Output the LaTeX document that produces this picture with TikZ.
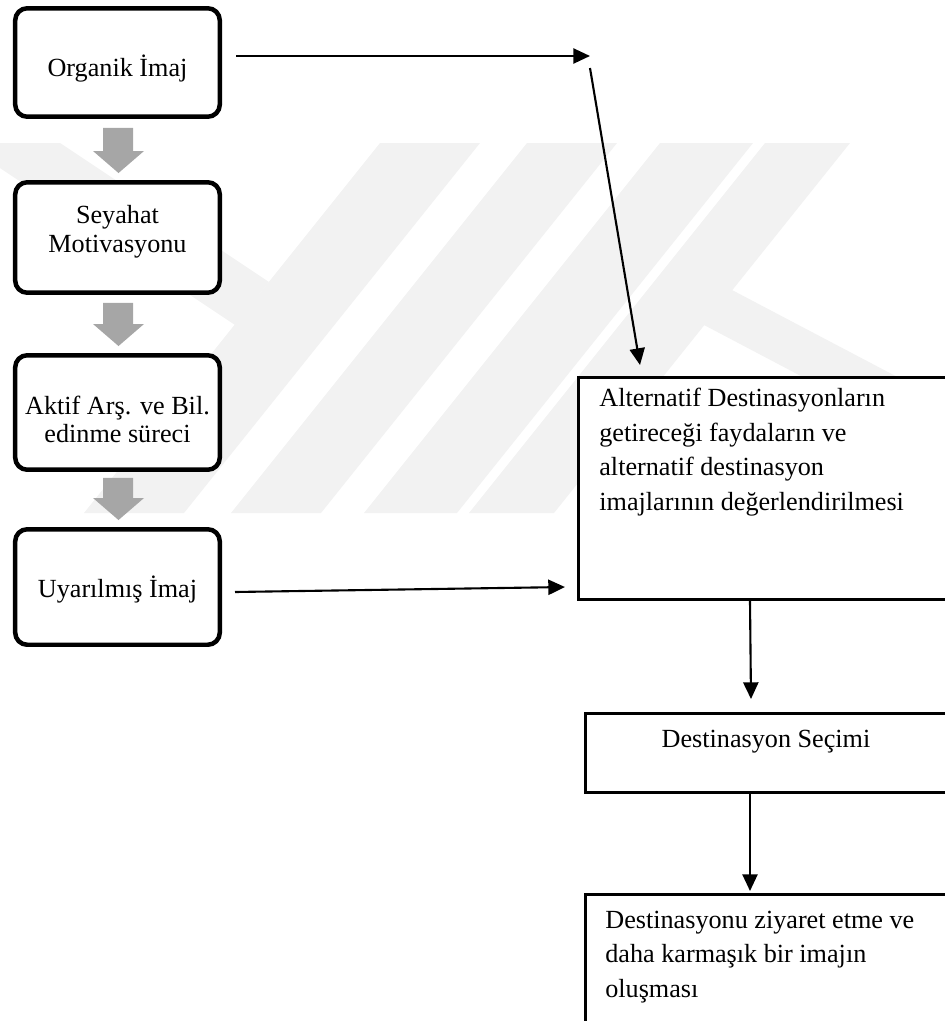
\documentclass[tikz,border=0pt]{standalone}
\usepackage{fontspec}
\setmainfont{Liberation Serif}
\usetikzlibrary{arrows.meta,calc}

\definecolor{blockgray}{RGB}{166,166,166}
\definecolor{markgray}{RGB}{242,242,242}

% a strut a little taller than the ascenders, so that the top of a
% multi-line label sits at a fixed distance above its first baseline
\newcommand{\firststrut}{\rule{0pt}{12.5pt}}

\tikzset{
  stagebox/.style={draw=black, fill=white, line width=2.56pt,
    rounded corners=6.8pt, minimum width=116.4pt, inner sep=0pt},
  flowbox/.style={draw=black, fill=white, line width=1.48pt,
    anchor=north west, inner sep=0pt},
  ltext/.style={inner sep=0pt, align=center,
    font={\fontsize{14.9pt}{16.22pt}\selectfont}},
  rtext/.style={inner sep=0pt, align=left,
    font={\fontsize{14.9pt}{19.63pt}\selectfont}},
  conn/.style={draw=black, line width=1.2pt,
    -{Triangle[length=9.5pt,width=8.6pt]}},
  logoband/.style={fill=markgray}
}

\begin{document}
\begin{tikzpicture}[x=0.02cm, y=-0.02cm]
\useasboundingbox (0,0) rectangle (944,1021);

% faint logo in the background
\begin{scope}
  \clip (0,143) rectangle (944,513);
  \fill[logoband] (0,143) -- (60,143) -- (269,282) -- (235,325) -- (0,168) -- cycle;
  \fill[logoband] (380,143) -- (480,143) -- (184,513) -- (84,513) -- cycle;
  \fill[logoband] (527,143) -- (617,143) -- (321,513) -- (231,513) -- cycle;
  \fill[logoband] (660,143) -- (753,143) -- (457,513) -- (364,513) -- cycle;
  \fill[logoband] (765,143) -- (850,143) -- (554,513) -- (469,513) -- cycle;
  \fill[logoband] (732,290) -- (1156,513) -- (1061,513) -- (704,325) -- cycle;
\end{scope}

% left column: image formation stages
\node[stagebox, minimum height=61.74pt] (b1) at (117.5,62.5) {};
\node[stagebox, minimum height=62.88pt] (b2) at (117.5,237.5) {};
\node[stagebox, minimum height=65.16pt] (b3) at (117.5,412.5) {};
\node[stagebox, minimum height=65.73pt] (b4) at (117.5,587) {};

\node[ltext, anchor=base] (t1) at ($(b1.center)+(0,13.5)$) {Organik İmaj};
\node[ltext, anchor=north] (t2) at ($(b2.center)+(0,-36.1)$)
  {\firststrut Seyahat\\Motivasyonu};
\node[ltext, anchor=north] (t3) at ($(b3.center)+(0,-20.5)$)
  {\firststrut Aktif Arş. ve Bil.\\edinme süreci};
\node[ltext, anchor=base] (t4) at ($(b4.center)+(0,10)$) {Uyarılmış İmaj};

% right column: evaluation and choice
\node[flowbox, minimum width=216.5pt, minimum height=126.6pt] (bA) at (577,376) {};
\node[flowbox, minimum width=212.5pt, minimum height=45.2pt] (bB) at (584,712) {};
\node[flowbox, minimum width=212.5pt, minimum height=82.2pt] (bC) at (584,893) {};

\node[rtext, anchor=north west] (tA) at ($(bA.north west)+(22,8.5)$)
  {\firststrut Alternatif Destinasyonların\\getireceği faydaların ve\\alternatif destinasyon\\imajlarının değerlendirilmesi};
\node[rtext, anchor=base] (tB) at ($(bB.north west)+(182,35)$) {Destinasyon Seçimi};
\node[rtext, anchor=north west] (tC) at ($(bC.north west)+(21,13)$)
  {\firststrut Destinasyonu ziyaret etme ve\\daha karmaşık bir imajın\\oluşması};

% grey block arrows between the stages
\foreach \a/\b/\s in {b1/b2/9, b2/b3/8, b3/b4/6} {
  \fill[blockgray]
    ($(\a.south)+(-14.5,\s)$) -- ($(\a.south)+(15.5,\s)$) --
    ($(\b.north)+(15.5,-29)$) -- ($(\b.north)+(26.5,-29)$) --
    ($(\b.north)+(1,-7)$) --
    ($(\b.north)+(-24.5,-29)$) -- ($(\b.north)+(-14.5,-29)$) -- cycle;
}

% connectors
\coordinate (k1) at (590,56);
\coordinate (k2) at (590,68);
\coordinate (kA) at (640,365);

\draw[conn] ($(b1.east)+(14,-6.5)$) -- (k1);
\draw[conn] (k2) -- (kA);
\draw[conn] ($(b4.east)+(13,5)$) -- ($(bA.south west)+(-12,-14)$);
\draw[conn] ($(bA.south west)+(173,0)$) -- ($(bB.north west)+(167,-13)$);
\draw[conn] ($(bB.south west)+(166,0)$) -- ($(bC.north west)+(166,-2)$);
\end{tikzpicture}
\end{document}
